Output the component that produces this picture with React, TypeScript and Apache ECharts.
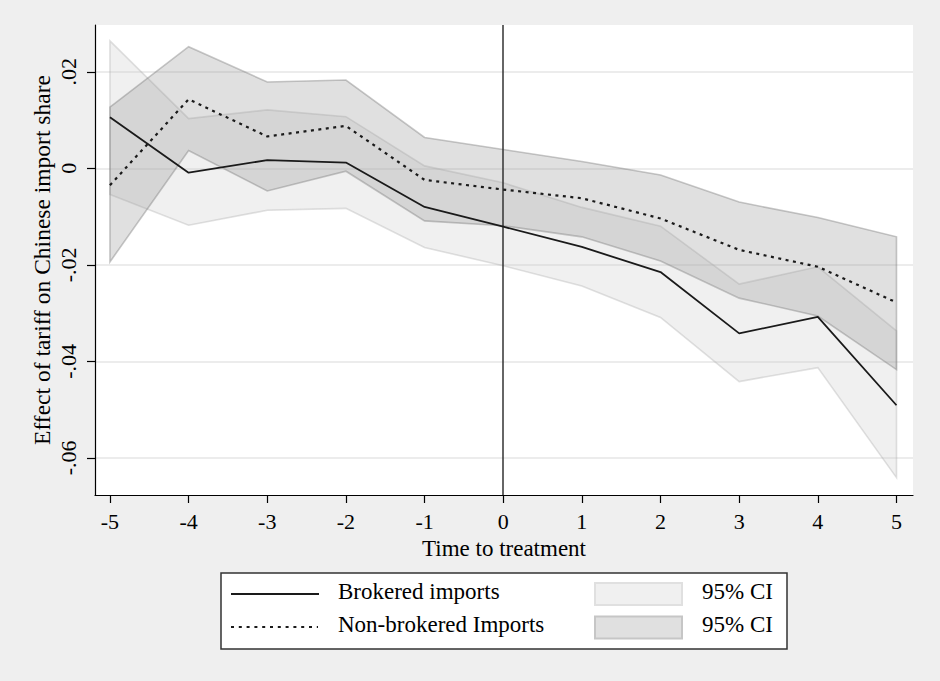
import React, { useEffect, useRef } from "react";
import * as echarts from "echarts";

const xs = [-5, -4, -3, -2, -1, 0, 1, 2, 3, 4, 5];
const brokered = [0.0106, -0.0009, 0.0017, 0.0012, -0.008, -0.0121, -0.0163, -0.0215, -0.0342, -0.0308, -0.0491];
const nonBrokered = [-0.0035, 0.0143, 0.0066, 0.0088, -0.0024, -0.0044, -0.0062, -0.0104, -0.0169, -0.0204, -0.0278];
const brokeredLo = [-0.0054, -0.0118, -0.0087, -0.0083, -0.0164, -0.0202, -0.0244, -0.0309, -0.0442, -0.0413, -0.0641];
const brokeredHi = [0.0264, 0.0103, 0.0121, 0.0107, 0.0005, -0.003, -0.0081, -0.012, -0.024, -0.0204, -0.0337];
const nonLo = [-0.0194, 0.0037, -0.0047, -0.0006, -0.0109, -0.0119, -0.0142, -0.0192, -0.0269, -0.0306, -0.0417];
const nonHi = [0.0127, 0.0252, 0.0179, 0.0183, 0.0064, 0.0039, 0.0014, -0.0014, -0.007, -0.0102, -0.0142];

const yTickValues = [0.02, 0, -0.02, -0.04, -0.06];
const yTickLabels = [".02", "0", "-.02", "-.04", "-.06"];
const xTickValues = [-5, -4, -3, -2, -1, 0, 1, 2, 3, 4, 5];

const FONT = '"Liberation Serif", "Times New Roman", serif';

function bandSeries(lo: number[], hi: number[], fill: string, stroke: string, z: number) {
  return {
    type: "custom",
    coordinateSystem: "cartesian2d",
    data: [[xs[0], lo[0]]],
    encode: { x: 0, y: 1 },
    silent: true,
    z,
    clip: false,
    renderItem: (_params: any, api: any) => {
      const pts: number[][] = [];
      for (let i = 0; i < xs.length; i++) pts.push(api.coord([xs[i], hi[i]]));
      for (let i = xs.length - 1; i >= 0; i--) pts.push(api.coord([xs[i], lo[i]]));
      return {
        type: "polygon",
        shape: { points: pts },
        style: { fill, stroke, lineWidth: 1.6 },
      };
    },
  };
}

export default function App() {
  const ref = useRef<HTMLDivElement>(null);
  useEffect(() => {
    document.body.style.margin = "0";
    const chart = echarts.init(ref.current!, null, { renderer: "svg" });
    const option: any = {
      animation: false,
      backgroundColor: "#efefef",
      grid: {
        left: 95,
        top: 25,
        width: 818,
        height: 470,
        show: true,
        backgroundColor: "#ffffff",
        borderWidth: 0,
      },
      xAxis: {
        type: "value",
        min: -5.19,
        max: 5.21,
        name: "Time to treatment",
        nameLocation: "middle",
        nameGap: 40,
        nameTextStyle: { fontFamily: FONT, fontSize: 23, color: "#000" },
        axisLine: { show: true, onZero: false, lineStyle: { color: "#000", width: 1.2 } },
        axisTick: { show: true, length: 8, customValues: xTickValues, lineStyle: { color: "#000", width: 1.2 } },
        axisLabel: {
          customValues: xTickValues,
          fontFamily: FONT,
          fontSize: 22,
          color: "#000",
          margin: 15,
          formatter: (v: number) => String(Math.round(v)),
        },
        splitLine: { show: false },
      },
      yAxis: {
        type: "value",
        min: -0.0677,
        max: 0.0297,
        name: "Effect of tariff on Chinese import share",
        nameLocation: "middle",
        nameGap: 41,
        nameMoveOverlap: false,
        nameTextStyle: { fontFamily: FONT, fontSize: 23.5, color: "#000" },
        axisLine: { show: true, onZero: false, lineStyle: { color: "#000", width: 1.2 } },
        axisTick: { show: true, length: 8, customValues: yTickValues, lineStyle: { color: "#000", width: 1.2 } },
        axisLabel: {
          customValues: yTickValues,
          rotate: 90,
          fontFamily: FONT,
          fontSize: 22,
          color: "#000",
          margin: 16,
          formatter: (v: number) => {
            let best = 0;
            for (let i = 0; i < yTickValues.length; i++) {
              if (Math.abs(yTickValues[i] - v) < Math.abs(yTickValues[best] - v)) best = i;
            }
            return yTickLabels[best];
          },
        },
        splitLine: { show: true, lineStyle: { color: "#e6e6e6", width: 1.6 } },
      },
      series: [
        bandSeries(brokeredLo, brokeredHi, "rgba(200,200,200,0.27)", "rgba(170,170,170,0.35)", 2),
        bandSeries(nonLo, nonHi, "rgba(150,150,150,0.295)", "rgba(120,120,120,0.4)", 3),
        {
          type: "line",
          data: xs.map((x, i) => [x, brokered[i]]),
          symbol: "none",
          z: 5,
          lineStyle: { color: "#1a1a1a", width: 1.8, type: "solid" },
          markLine: {
            silent: true,
            symbol: ["none", "none"],
            label: { show: false },
            lineStyle: { color: "#333", width: 1.5, type: "solid" },
            data: [{ xAxis: 0 }],
          },
        },
        {
          type: "line",
          data: xs.map((x, i) => [x, nonBrokered[i]]),
          symbol: "none",
          z: 5,
          lineStyle: { color: "#1a1a1a", width: 2.2, type: [3, 4.5] },
        },
      ],
      graphic: [
        {
          type: "rect",
          shape: { x: 221, y: 573, width: 566, height: 76 },
          style: { fill: "#fff", stroke: "#333", lineWidth: 1.5 },
        },
        {
          type: "line",
          shape: { x1: 231, y1: 594, x2: 319, y2: 594 },
          style: { stroke: "#1a1a1a", lineWidth: 1.8 },
        },
        {
          type: "line",
          shape: { x1: 231, y1: 627, x2: 318, y2: 627 },
          style: { stroke: "#1a1a1a", lineWidth: 2.2, lineDash: [3, 4.8] },
        },
        {
          type: "text",
          style: { text: "Brokered imports", x: 338, y: 591, font: `23px ${FONT}`, fill: "#000", textVerticalAlign: "middle" },
        },
        {
          type: "text",
          style: { text: "Non-brokered Imports", x: 338, y: 624, font: `23px ${FONT}`, fill: "#000", textVerticalAlign: "middle" },
        },
        {
          type: "rect",
          shape: { x: 595, y: 583, width: 87, height: 22 },
          style: { fill: "#f0f0f0", stroke: "#e0e0e0", lineWidth: 2 },
        },
        {
          type: "rect",
          shape: { x: 595, y: 616.5, width: 87, height: 22 },
          style: { fill: "#e0e0e0", stroke: "#c6c6c6", lineWidth: 2 },
        },
        {
          type: "text",
          style: { text: "95% CI", x: 773, y: 591, font: `23px ${FONT}`, fill: "#000", textAlign: "right", textVerticalAlign: "middle" },
        },
        {
          type: "text",
          style: { text: "95% CI", x: 773, y: 624, font: `23px ${FONT}`, fill: "#000", textAlign: "right", textVerticalAlign: "middle" },
        },
      ],
    };
    chart.setOption(option);
    return () => chart.dispose();
  }, []);
  return <div ref={ref} style={{ width: 940, height: 681, background: "#efefef" }} />;
}
